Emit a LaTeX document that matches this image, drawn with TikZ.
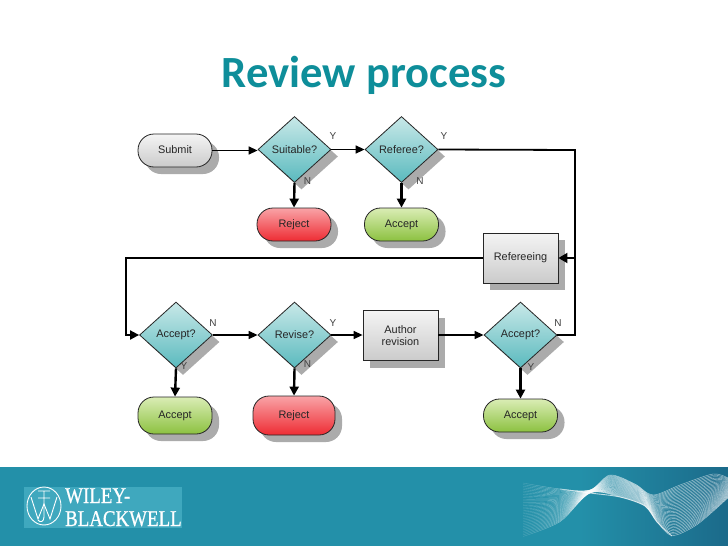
\documentclass[tikz,border=0pt]{standalone}
\usepackage{xcolor}
\usepackage{fontspec}
\setmainfont{Liberation Sans}
\newfontfamily\titlefont{Carlito}
\newfontfamily\logofont[FakeBold=0.8]{Liberation Serif}
\usetikzlibrary{shapes.geometric,shadows,arrows.meta,calc,fadings}
\definecolor{tealtitle}{HTML}{0E8E9A}
\definecolor{bandmid}{HTML}{2390A9}
\definecolor{bandright}{HTML}{1B6A8A}
\definecolor{logobox}{HTML}{3FA8BE}
\definecolor{shadowgray}{HTML}{ABABAB}
\definecolor{greytop}{HTML}{F4F4F4}
\definecolor{greybottom}{HTML}{CBCBCB}
\definecolor{redtop}{HTML}{F9A3A7}
\definecolor{redbottom}{HTML}{EE2C33}
\definecolor{greentop}{HTML}{DAEDB5}
\definecolor{greenbottom}{HTML}{8CC140}
\definecolor{tealtop}{HTML}{C8E8E8}
\definecolor{tealbottom}{HTML}{5ABABE}
\tikzset{
	boxbase/.style={draw=black!85,line width=0.8pt,text=black!85,font=\fontsize{10.9}{11.5}\selectfont,align=center,inner sep=0pt,
		drop shadow={shadow xshift=7pt,shadow yshift=-7pt,fill=shadowgray,opacity=1}},
	terminal/.style={boxbase,rounded corners=16pt,minimum width=#1,text depth=2.5pt},
	terminal/.default=74pt,
	submitnode/.style={terminal,minimum height=33pt,top color=greytop,bottom color=greybottom},
	rejectnode/.style={terminal=#1,minimum height=33pt,top color=redtop,bottom color=redbottom},
	rejectnode/.default=74pt,
	acceptnode/.style={terminal,minimum height=33pt,top color=greentop,bottom color=greenbottom},
	question/.style={boxbase,diamond,minimum width=73pt,minimum height=66pt,top color=tealtop,bottom color=tealbottom},
	process/.style={boxbase,rectangle,minimum width=75pt,minimum height=50pt,top color=greytop,bottom color=greybottom},
	answer/.style={text=black!75,font=\fontsize{10}{11}\selectfont,inner sep=0pt},
	thinflow/.style={line width=1.4pt,-{Triangle[length=9pt,width=8pt]}},
	thickflow/.style={line width=2.4pt,-{Triangle[length=9pt,width=9pt]}},
	plainflow/.style={line width=1.8pt},
	wave/.style={draw=white,line width=0.4pt,opacity=0.65},
	logotext/.style={anchor=base west,text=white,inner sep=0pt,xscale=0.84,transform shape,font=\logofont\fontsize{22.5}{24}\selectfont}
}
\begin{document}
\begin{tikzpicture}[x=1pt,y=-1pt]
	\useasboundingbox (0,0) rectangle (728,546);
	\fill[white] (0,0) rectangle (728,546);
	\fill[bandmid] (0,467) rectangle (581,546);
	\shade[left color=bandmid,right color=bandright] (580,467) rectangle (728,546);

	\coordinate (u1) at (523,483);
	\coordinate (u2) at (560,489);
	\coordinate (u3) at (590,490);
	\coordinate (u4) at (610,475);
	\coordinate (u5) at (635,484);
	\coordinate (u6) at (653,495);
	\coordinate (u7) at (680,485);
	\coordinate (u8) at (713,474);
	\coordinate (u9) at (728,478);
	\coordinate (l1) at (523,537);
	\coordinate (l2) at (560,522);
	\coordinate (l3) at (590,493);
	\coordinate (l4) at (620,497);
	\coordinate (l5) at (645,506);
	\coordinate (l6) at (657,522);
	\coordinate (l7) at (672,536);
	\coordinate (l8) at (697,525);
	\coordinate (l9) at (728,498);
	\foreach \t in {0,0.03,...,1.01}{
		\draw[wave] plot[smooth] coordinates {($(u1)!\t!(l1)$) ($(u2)!\t!(l2)$) ($(u3)!\t!(l3)$) ($(u4)!\t!(l4)$) ($(u5)!\t!(l5)$) ($(u6)!\t!(l6)$) ($(u7)!\t!(l7)$) ($(u8)!\t!(l8)$) ($(u9)!\t!(l9)$)};
	}
	\draw[white,line width=0.9pt,opacity=0.7] plot[smooth] coordinates {(u2) (l3) (l4) (l5) (l6) (l7)};
	\fill[bandmid,path fading=east] (505,470) rectangle (578,545);

	\fill[logobox] (24,487) rectangle (182,528);
	\draw[white,line width=0.9pt] (44,506) ellipse (17 and 19);
	\draw[white,line width=0.9pt] (31,497) -- (38,519) -- (44,504) -- (50,519) -- (57,497);
	\draw[white,line width=0.9pt] (38,491) -- (50,491) (38,498) -- (50,498) (44,491) -- (44,517) .. controls (44,522) and (40,523) .. (38,520);
	\node[logotext] (w1) at (65,503) {WILEY-};
	\node[logotext] (w2) at (65,526) {BLACKWELL};

	\node[anchor=base,text=tealtitle,inner sep=0pt,font=\titlefont\bfseries\fontsize{44.6}{48}\selectfont] (title) at (364,87) {Review process};

	\node[submitnode] (s1) at (175,150.5) {Submit};
	\node[question] (d1) at (294.5,149.5) {Suitable?};
	\node[question] (d2) at (401.5,149.5) {Referee?};
	\node[rejectnode] (r1) at (294,224.5) {Reject};
	\node[acceptnode] (a1) at (401.5,224.5) {Accept};
	\node[process] (p1) at (520.5,258) {Refereeing};
	\node[question] (d3) at (176,335) {Accept?};
	\node[question] (d4) at (294.5,335) {Revise?};
	\node[process] (p2) at (400.5,335.5) {Author\\revision};
	\node[question] (d5) at (520.5,335) {Accept?};
	\node[acceptnode,minimum height=37pt] (a2) at (175,415.5) {Accept};
	\node[rejectnode=82pt,minimum height=39pt] (r2) at (294,415.5) {Reject};
	\node[acceptnode] (a3) at (520.5,415.5) {Accept};

	\coordinate (c1) at (575,150);
	\coordinate (c2) at (575,258);
	\coordinate (c3) at (575,335);
	\coordinate (c4) at (126,258);

	\draw[thinflow] (s1.east) -- (d1.west |- s1.east);
	\draw[thinflow] (d1.east) -- (d2.west);
	\draw[thickflow] (d1.south) -- (r1.north);
	\draw[thickflow] (d2.south) -- (a1.north);
	\draw[plainflow] (d2.east) -- (c1) -- (c2);
	\draw[plainflow,-{Triangle[length=9pt,width=10pt]}] (d5.east) -- (c3) -- (c2) -- (p1.east);
	\draw[plainflow,-{Triangle[length=9pt,width=9pt]}] (p1.west) -- (c4) |- (d3.west);
	\draw[thinflow] (d3.east) -- (d4.west);
	\draw[thinflow] (d4.east) -- (p2.west |- d4.east);
	\draw[thinflow] (p2.east |- d5.west) -- (d5.west);
	\draw[thickflow] (d3.south) -- (a2.north);
	\draw[thickflow] (d4.south) -- (r2.north);
	\draw[thickflow] (d5.south) -- (a3.north);

	\node[answer] (y1) at (333,136) {Y};
	\node[answer] (n1) at (307.5,181) {N};
	\node[answer] (y2) at (444,136) {Y};
	\node[answer] (n2) at (420,181) {N};
	\node[answer] (n3) at (213,323) {N};
	\node[answer] (y3) at (184,366) {Y};
	\node[answer] (y4) at (333,323) {Y};
	\node[answer] (n4) at (307.5,364) {N};
	\node[answer] (n5) at (558,323) {N};
	\node[answer] (y5) at (531,367) {Y};
\end{tikzpicture}
\end{document}
